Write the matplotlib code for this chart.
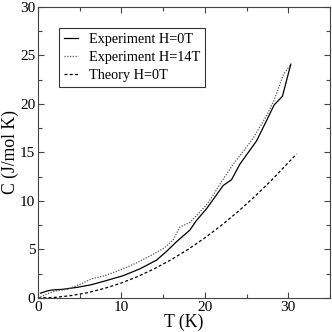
import matplotlib.pyplot as plt
import matplotlib as mpl
from matplotlib.ticker import MultipleLocator

mpl.rcParams.update({
    "font.family": ["Liberation Serif", "DejaVu Serif"],
    "xtick.direction": "in",
    "ytick.direction": "in",
    "xtick.top": True,
    "ytick.right": True,
})

# Experiment H=0T
t_exp0 = [0.3, 1.0, 1.5, 2.1, 3.0, 4.7, 6.3, 8.0, 10.2, 12.2, 14.2, 15.4, 16.6,
          18.2, 19.0, 20.2, 21.2, 22.2, 23.2, 24.2, 25.2, 26.2, 27.4, 28.3, 29.3, 30.3]
c_exp0 = [0.5, 0.7, 0.8, 0.85, 0.9, 1.1, 1.35, 1.75, 2.3, 3.0, 3.9, 4.8, 5.8,
          7.0, 8.0, 9.2, 10.4, 11.6, 12.2, 13.8, 15.0, 16.2, 18.3, 19.9, 20.8, 24.1]

# Experiment H=14T
t_exp14 = [0.3, 1.0, 2.0, 3.5, 5.0, 6.5, 8.0, 10.2, 12.0, 14.0, 15.2, 16.2, 17.0,
           18.2, 19.0, 20.2, 21.0, 22.0, 23.4, 24.5, 25.8, 27.4, 28.3, 29.4, 30.3]
c_exp14 = [0.1, 0.4, 0.7, 0.9, 1.4, 2.0, 2.3, 3.0, 3.7, 4.6, 5.2, 6.0, 7.3,
           7.8, 8.5, 9.6, 10.6, 12.0, 13.8, 15.0, 16.5, 18.8, 20.4, 23.0, 24.1]

# Theory H=0T
t_th = [0, 2, 4, 6, 8, 10, 12, 14, 16, 18, 20, 22, 24, 26, 28, 30, 31]
c_th = [0.0, 0.06, 0.25, 0.56, 1.0, 1.55, 2.23, 3.04, 3.97, 5.02, 6.2,
        7.5, 8.93, 10.48, 12.15, 13.95, 14.85]

fig = plt.figure(figsize=(3.32, 3.32), dpi=100)
ax = fig.add_axes([0.1145, 0.1024, 0.8795, 0.8766])

ax.plot(t_exp0, c_exp0, color="black", lw=0.9, label="Experiment H=0T")
ax.plot(t_exp14, c_exp14, color="#555555", lw=0.9, linestyle=(0, (1, 1.2)),
        label="Experiment H=14T")
ax.plot(t_th, c_th, color="black", lw=0.9, linestyle=(0, (2.4, 1.8)),
        label="Theory H=0T")

ax.set_xlim(0, 35)
ax.set_ylim(0, 30)
ax.xaxis.set_major_locator(MultipleLocator(10))
ax.xaxis.set_minor_locator(MultipleLocator(5))
ax.yaxis.set_major_locator(MultipleLocator(5))
ax.yaxis.set_minor_locator(MultipleLocator(2.5))
ax.tick_params(which="major", length=4.4, width=0.8, labelsize=11, pad=2,
               color="#444444")
ax.tick_params(which="minor", length=2.6, width=0.8, color="#444444")
for s in ax.spines.values():
    s.set_linewidth(0.8)
    s.set_color("#444444")

ax.set_xlabel("T (K)", fontsize=12.7, labelpad=0)
ax.set_ylabel("C (J/mol K)", fontsize=12.7, labelpad=1)

leg = ax.legend(loc="upper left", bbox_to_anchor=(0.072, 0.928), fontsize=10.3,
                frameon=True, fancybox=False, handlelength=1.0,
                handletextpad=0.75, borderpad=0.35, labelspacing=0.35,
                borderaxespad=0)
leg.get_frame().set_edgecolor("black")
leg.get_frame().set_linewidth(0.8)

fig.savefig("out.png", dpi=100)
